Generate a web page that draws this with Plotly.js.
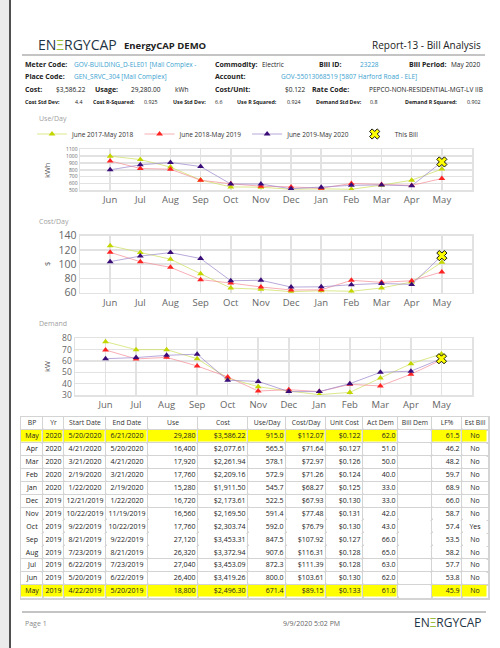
<!DOCTYPE html>
<html>
<head>
<meta charset="utf-8">
<script src="https://cdn.plot.ly/plotly-3.0.1.min.js"></script>
<style>
html,body{margin:0;padding:0;background:#fff;}
#chart{width:500px;height:648px;}
</style>
</head>
<body>
<div id="chart"></div>
<script>
// ---------- DATA ----------
const months = ['Jun','Jul','Aug','Sep','Oct','Nov','Dec','Jan','Feb','Mar','Apr','May'];
const seriesNames = ['June 2017-May 2018','June 2018-May 2019','June 2019-May 2020'];

const useDay2017 = [1000, 950, 840, 650, 550, 545, 515, 522, 515, 575, 648, 810];
const useDay2018 = [930, 820, 808, 648, 595, 560, 550, 530, 600, 585, 572, 671.4];
const useDay2019 = [800.0, 872.3, 907.6, 847.5, 592.0, 591.4, 522.5, 545.7, 572.9, 578.1, 565.5, 915.0];

const costDay2017 = [126, 116.5, 107, 86.5, 66.5, 64.8, 61.4, 62.8, 62, 66.6, 75, 102.7];
const costDay2018 = [116.7, 103.5, 95.6, 78.3, 73.6, 68, 63.8, 64, 77.4, 74.5, 76.8, 89.15];
const costDay2019 = [103.61, 111.39, 116.31, 107.92, 76.79, 77.48, 67.93, 68.27, 71.26, 72.97, 71.64, 112.07];

const dem2017 = [77, 70, 70, 62, 45, 37.3, 33.5, 30.3, 32.3, 45, 57.6, 66.2];
const dem2018 = [69.7, 61.8, 63.2, 55.6, 45.9, 33.5, 34.7, 33, 39.4, 38, 48.3, 61];
const dem2019 = [62, 63, 65, 66, 43, 42, 33, 33, 40, 50, 51, 62];

const thisBillMonth = ['May'];
const thisBillUse = [915.0];
const thisBillCost = [112.07];
const thisBillDem = [62.0];

const tblHeaders = ['BP','Yr','Start Date','End Date','Use','Cost','Use/Day','Cost/Day','Unit Cost','Act Dem','Bill Dem','LF%','Est Bill'];
const tblBP = ['May','Apr','Mar','Feb','Jan','Dec','Nov','Oct','Sep','Aug','Jul','Jun','May'];
const tblYr = ['2020','2020','2020','2020','2020','2019','2019','2019','2019','2019','2019','2019','2019'];
const tblStart = ['5/20/2020','4/21/2020','3/21/2020','2/19/2020','1/22/2020','12/21/2019','10/22/2019','9/22/2019','8/21/2019','7/23/2019','6/22/2019','5/20/2019','4/22/2019'];
const tblEnd = ['6/21/2020','5/20/2020','4/21/2020','3/21/2020','2/19/2020','1/22/2020','11/19/2019','10/22/2019','9/22/2019','8/21/2019','7/23/2019','6/22/2019','5/20/2019'];
const tblUse = ['29,280','16,400','17,920','17,760','15,280','16,720','16,560','17,760','27,120','26,320','27,040','26,400','18,800'];
const tblCost = ['$3,586.22','$2,077.61','$2,261.94','$2,209.16','$1,911.50','$2,173.61','$2,169.50','$2,303.74','$3,453.31','$3,372.94','$3,453.09','$3,419.26','$2,496.30'];
const tblUseDay = ['915.0','565.5','578.1','572.9','545.7','522.5','591.4','592.0','847.5','907.6','872.3','800.0','671.4'];
const tblCostDay = ['$112.07','$71.64','$72.97','$71.26','$68.27','$67.93','$77.48','$76.79','$107.92','$116.31','$111.39','$103.61','$89.15'];
const tblUnitCost = ['$0.122','$0.127','$0.126','$0.124','$0.125','$0.130','$0.131','$0.130','$0.127','$0.128','$0.128','$0.130','$0.133'];
const tblActDem = ['62.0','51.0','50.0','40.0','33.0','33.0','42.0','43.0','66.0','65.0','63.0','62.0','61.0'];
const tblBillDem = ['','','','','','','','','','','','',''];
const tblLF = ['61.5','46.2','48.2','59.7','68.9','66.0','58.7','57.4','53.5','58.2','57.7','53.8','45.9'];
const tblEst = ['No','No','No','No','No','No','No','Yes','No','No','No','No','No'];
const highlightRows = [0, 12];

// ---------- STYLE ----------
const W = 500, H = 648;
const px = x => x / W;
const py = y => 1 - y / H;
const F = 'Open Sans, Noto Sans, DejaVu Sans, sans-serif';
const markerColors = ['#c3d600', '#ff2424', '#3a0c78'];
const lineColors = ['rgba(205,222,90,0.7)', 'rgba(245,140,150,0.7)', 'rgba(160,140,205,0.75)'];

const traces = [];
const charts = [
  {ax: '', data: [useDay2017, useDay2018, useDay2019], tb: thisBillUse, legend: true},
  {ax: '2', data: [costDay2017, costDay2018, costDay2019], tb: thisBillCost, legend: false},
  {ax: '3', data: [dem2017, dem2018, dem2019], tb: thisBillDem, legend: false}
];
charts.forEach(c => {
  c.data.forEach((vals, i) => {
    traces.push({
      type: 'scatter', mode: 'lines+markers', x: months, y: vals,
      name: seriesNames[i], xaxis: 'x' + c.ax, yaxis: 'y' + c.ax,
      showlegend: c.legend, legendgroup: 's' + i,
      line: {color: lineColors[i], width: 1},
      marker: {symbol: 'triangle-up', size: 6, color: markerColors[i]},
      hoverinfo: 'skip'
    });
  });
  traces.push({
    type: 'scatter', mode: 'markers', x: thisBillMonth, y: c.tb,
    name: 'This Bill', xaxis: 'x' + c.ax, yaxis: 'y' + c.ax,
    showlegend: c.legend, legendgroup: 'tb',
    marker: {symbol: 'x', size: 9, color: '#ffff00', line: {color: '#111', width: 1}},
    hoverinfo: 'skip'
  });
});

// ---------- TABLE (cartesian grid: heatmap cells + text) ----------
const colWidths = [22, 21, 42, 42, 50, 50, 38, 40, 37, 35, 34, 30, 26];
const colAlign = ['center','center','center','center','right','right','right','right','right','right','right','right','center'];
const cols = [tblBP, tblYr, tblStart, tblEnd, tblUse, tblCost, tblUseDay, tblCostDay, tblUnitCost, tblActDem, tblBillDem, tblLF, tblEst];
const nRows = tblBP.length;
const colEdges = [0];
colWidths.forEach(w => colEdges.push(colEdges[colEdges.length - 1] + w));
const rowEdges = [];
for (let r = 0; r <= nRows + 1; r++) rowEdges.push(r);

const zFill = [];
zFill.push(cols.map(() => 0)); // header row
for (let r = 0; r < nRows; r++) {
  zFill.push(cols.map((col, ci) => (highlightRows.includes(r) && ci !== 10) ? 1 : 0));
}
traces.push({
  type: 'heatmap', x: colEdges, y: rowEdges, z: zFill,
  xaxis: 'x4', yaxis: 'y4', zmin: 0, zmax: 1,
  colorscale: [[0, '#ffffff'], [1, '#ffff00']], showscale: false,
  xgap: 1.5, ygap: 1.5, hoverinfo: 'skip'
});

const hx = [], hy = [], ht = [];
tblHeaders.forEach((h, ci) => { hx.push((colEdges[ci] + colEdges[ci + 1]) / 2); hy.push(0.5); ht.push(h); });
traces.push({
  type: 'scatter', mode: 'text', x: hx, y: hy, text: ht, textposition: 'middle center',
  textfont: {family: F, size: 6.8, color: '#333'}, xaxis: 'x4', yaxis: 'y4',
  showlegend: false, hoverinfo: 'skip', cliponaxis: false
});
const cx = [], cy = [], ct = [], rx = [], ry = [], rt = [];
cols.forEach((col, ci) => {
  col.forEach((v, r) => {
    if (colAlign[ci] === 'center') {
      cx.push((colEdges[ci] + colEdges[ci + 1]) / 2); cy.push(r + 1.5); ct.push(v);
    } else {
      rx.push(colEdges[ci + 1] - 2.5); ry.push(r + 1.5); rt.push(v);
    }
  });
});
traces.push({
  type: 'scatter', mode: 'text', x: cx, y: cy, text: ct, textposition: 'middle center',
  textfont: {family: F, size: 7, color: '#222'}, xaxis: 'x4', yaxis: 'y4',
  showlegend: false, hoverinfo: 'skip', cliponaxis: false
});
traces.push({
  type: 'scatter', mode: 'text', x: rx, y: ry, text: rt, textposition: 'middle left',
  textfont: {family: F, size: 7, color: '#222'}, xaxis: 'x4', yaxis: 'y4',
  showlegend: false, hoverinfo: 'skip', cliponaxis: false
});

// ---------- AXES ----------
function xax(x0, x1, anchor) {
  return {
    domain: [px(x0), px(x1)], anchor: anchor, type: 'category', range: [-1, 12],
    showgrid: true, gridcolor: '#e2e2e2', gridwidth: 1.5,
    showline: true, mirror: true, linecolor: '#e2e2e2', linewidth: 1.5,
    ticks: '', tickfont: {family: F, size: 9.5, color: '#666'}, fixedrange: true
  };
}
function yax(y0, y1, range, dtick, fs, anchor) {
  return {
    domain: [py(y1), py(y0)], anchor: anchor, range: range, dtick: dtick,
    showgrid: true, gridcolor: '#e2e2e2', gridwidth: 1.5, zeroline: false,
    showline: true, mirror: true, linecolor: '#e2e2e2', linewidth: 1.5,
    ticks: '', tickfont: {family: F, size: fs, color: '#666'}, fixedrange: true
  };
}

// ---------- TEXT ----------
const ann = [];
function T(x, y, text, size, color, anchor, extra) {
  ann.push(Object.assign({
    xref: 'paper', yref: 'paper', x: px(x), y: py(y), text: text, showarrow: false,
    xanchor: anchor || 'left', yanchor: 'middle',
    font: {family: F, size: size, color: color || '#222'}
  }, extra || {}));
}
const BLUE = '#3a9fcf';
const LOGO = 'EN<span style="color:#9cbf3a">Ξ</span>RGYCAP';
const LB = 7, VL = 6.5, SM = 5.3;
T(36, 45, LOGO, 14, '#1f3545');
T(122, 46, '<b>EnergyCAP DEMO</b>', 9.5, '#222');
T(483, 45, 'Report-13 - Bill Analysis', 10, '#222', 'right');

T(23, 64, '<b>Meter Code:</b>', LB);
T(72, 64, 'GOV-BUILDING_D-ELE01 [Mall Complex -', VL, BLUE);
T(213, 64, '<b>Commodity:</b>', LB);
T(260, 64, 'Electric', VL);
T(317, 64, '<b>Bill ID:</b>', LB);
T(358, 64, '23228', VL, BLUE);
T(407, 64, '<b>Bill Period:</b>', LB);
T(483, 64, 'May 2020', VL, '#222', 'right');

T(23, 77, '<b>Place Code:</b>', LB);
T(72, 77, 'GEN_SRVC_304 [Mall Complex]', VL, BLUE);
T(213, 77, '<b>Account:</b>', LB);
T(279, 77, 'GOV-55013068519 [5807 Harford Road - ELE]', VL, BLUE);

T(23, 90, '<b>Cost:</b>', LB);
T(54, 90, '$3,586.22', VL);
T(93, 90, '<b>Usage:</b>', LB);
T(129, 90, '29,280.00', VL);
T(173, 90, 'kWh', VL);
T(213, 90, '<b>Cost/Unit:</b>', LB);
T(308, 90, '$0.122', VL, '#222', 'right');
T(310, 90, '<b>Rate Code:</b>', LB);
T(485, 90, 'PEPCO-NON-RESIDENTIAL-MGT-LV IIB', VL, '#222', 'right');

T(23, 102, '<b>Cost Std Dev:</b>', SM);
T(73, 102, '4.4', SM);
T(91, 102, '<b>Cost R-Squared:</b>', SM);
T(142, 102, '0.925', SM);
T(171, 102, '<b>Use Std Dev:</b>', SM);
T(213, 102, '6.6', SM);
T(235, 102, '<b>Use R Squared:</b>', SM);
T(285, 102, '0.924', SM);
T(314, 102, '<b>Demand Std Dev:</b>', SM);
T(368, 102, '0.8', SM);
T(403, 102, '<b>Demand R Squared:</b>', SM);
T(465, 102, '0.902', SM);

T(37, 118, 'Use/Day', 7, '#a0a0a0');
T(37, 221, 'Cost/Day', 7, '#a0a0a0');
T(37, 323, 'Demand', 7, '#a0a0a0');
T(47, 171, 'kWh', 7.5, '#555', 'center', {textangle: -90});
T(47, 264, '$', 7.5, '#555', 'center', {textangle: -90});
T(47, 367, 'kW', 7.5, '#555', 'center', {textangle: -90});

T(23, 623, 'Page 1', 7, '#888');
T(311, 623, '9/9/2020 5:02 PM', 7, '#666', 'center');
T(484, 622, LOGO, 12, '#1f3545', 'right');

const shapes = [
  {type: 'rect', xref: 'paper', yref: 'paper', x0: 0, x1: px(9), y0: 0, y1: 1, fillcolor: '#ebebeb', line: {width: 0}, layer: 'below'},
  {type: 'rect', xref: 'paper', yref: 'paper', x0: px(9), x1: px(11), y0: 0, y1: 1, fillcolor: '#505050', line: {width: 0}, layer: 'below'},
  {type: 'line', xref: 'paper', yref: 'paper', x0: px(22), x1: px(485), y0: py(55), y1: py(55), line: {color: '#b0b0b0', width: 1.5}},
  {type: 'line', xref: 'paper', yref: 'paper', x0: px(22), x1: px(486), y0: py(612), y1: py(612), line: {color: '#b0b0b0', width: 1.5}}
];

const layout = {
  width: W, height: H, margin: {l: 0, r: 0, t: 0, b: 0},
  paper_bgcolor: '#ffffff', plot_bgcolor: '#ffffff',
  font: {family: F},
  showlegend: true,
  legend: {
    orientation: 'h', x: px(32), y: py(134), xanchor: 'left', yanchor: 'middle',
    font: {family: F, size: 6.5, color: '#333'}, bgcolor: 'rgba(0,0,0,0)',
    itemwidth: 30, itemclick: false, itemdoubleclick: false, tracegroupgap: 0
  },
  xaxis: xax(80, 472, 'y'),
  yaxis: yax(149.3, 190.3, [500, 1100], 100, 5, 'x'),
  xaxis2: xax(80, 472, 'y2'),
  yaxis2: yax(235.7, 292.7, [60, 140], 20, 10.5, 'x2'),
  xaxis3: xax(75, 472, 'y3'),
  yaxis3: yax(338.3, 395, [30, 80], 10, 8.5, 'x3'),
  xaxis4: {
    domain: [px(21), px(488)], anchor: 'y4', range: [0, colEdges[colEdges.length - 1]],
    tickvals: colEdges, showticklabels: false, ticks: '',
    showgrid: true, gridcolor: '#d4d4d4', gridwidth: 1.5, zeroline: false,
    showline: true, mirror: true, linecolor: '#d4d4d4', linewidth: 1.5, fixedrange: true
  },
  yaxis4: {
    domain: [py(598), py(417)], anchor: 'x4', range: [nRows + 1, 0],
    tickvals: rowEdges, showticklabels: false, ticks: '',
    showgrid: true, gridcolor: '#d4d4d4', gridwidth: 1.5, zeroline: false,
    showline: true, mirror: true, linecolor: '#d4d4d4', linewidth: 1.5, fixedrange: true
  },
  annotations: ann,
  shapes: shapes
};

Plotly.newPlot('chart', traces, layout, {displayModeBar: false, staticPlot: true});
</script>
</body>
</html>
